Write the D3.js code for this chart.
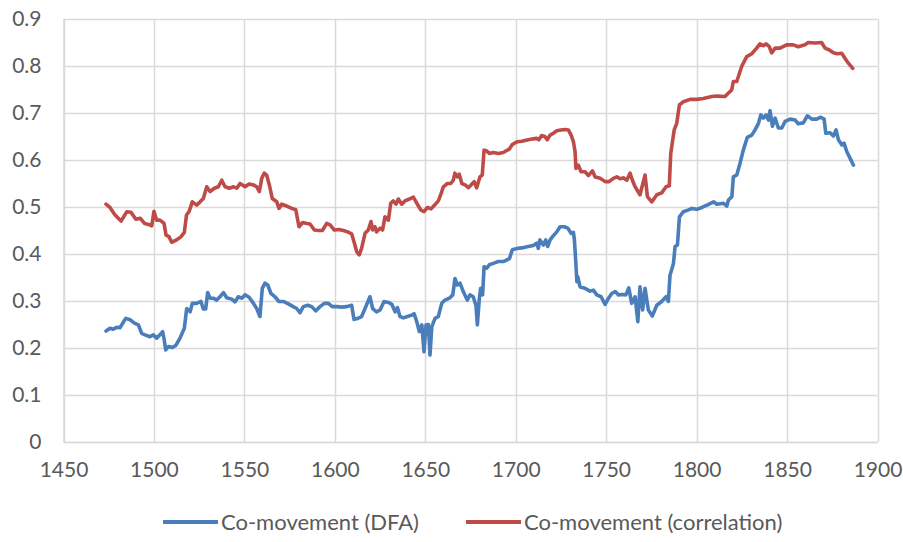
<!DOCTYPE html>
<html>
<head>
<meta charset="utf-8">
<script src="https://cdn.jsdelivr.net/npm/d3@7"></script>
<style>
  body { margin: 0; background: #fff; }
  text { font-family: Lato, "Open Sans", sans-serif; fill: #595959; }
</style>
</head>
<body>
<div id="chart"></div>
<script>
// DATA (year, value)
const dfa = [
  [1473.5,0.236],[1475.7,0.242],[1477.5,0.240],[1479.4,0.244],[1481.2,0.243],[1484.4,0.263],[1486.8,0.260],
  [1489.2,0.253],[1491.4,0.249],[1493.2,0.231],[1495,0.228],[1497.8,0.224],[1499.6,0.228],[1501.5,0.221],
  [1503.3,0.228],[1504.8,0.235],[1505.7,0.217],[1506.5,0.196],[1508,0.203],[1510.2,0.201],[1512.2,0.206],
  [1514.4,0.221],[1516.8,0.242],[1518.1,0.284],[1520,0.277],[1521.2,0.295],[1523.6,0.295],[1526,0.299],
  [1527.3,0.283],[1528.6,0.283],[1529.7,0.318],[1531,0.306],[1532.8,0.306],[1534.7,0.302],[1536.5,0.309],
  [1538.4,0.318],[1540.2,0.307],[1543,0.304],[1544.8,0.298],[1546.6,0.309],[1548.5,0.306],[1550.4,0.313],
  [1552.6,0.308],[1555,0.295],[1556.8,0.284],[1558.6,0.267],[1559.9,0.327],[1561.4,0.338],[1562.9,0.334],
  [1564.7,0.316],[1566.9,0.309],[1569.1,0.299],[1571.5,0.299],[1574.3,0.294],[1577,0.288],[1578.9,0.284],
  [1580.7,0.275],[1582.6,0.288],[1585,0.291],[1587.2,0.288],[1589.4,0.279],[1591.8,0.288],[1594.2,0.295],
  [1596.4,0.295],[1598.6,0.288],[1601,0.288],[1603.8,0.287],[1606.6,0.288],[1609.3,0.291],[1610.6,0.261],
  [1612.6,0.263],[1614.8,0.267],[1616.7,0.284],[1619.4,0.309],[1620.9,0.284],[1623.1,0.277],[1625,0.281],
  [1627.2,0.299],[1629.6,0.297],[1631.5,0.293],[1633.3,0.277],[1634.6,0.286],[1636,0.267],[1637.9,0.264],
  [1640.1,0.267],[1642.5,0.270],[1643.8,0.273],[1645.3,0.256],[1646.7,0.235],[1648.1,0.249],[1649.3,0.192],
  [1650.4,0.249],[1651.7,0.250],[1652.6,0.185],[1653.6,0.245],[1655.4,0.263],[1657.2,0.267],[1659.1,0.295],
  [1660.9,0.302],[1663.3,0.306],[1665.2,0.313],[1666.4,0.348],[1667.7,0.334],[1669.2,0.338],[1671,0.320],
  [1673.2,0.302],[1674.7,0.313],[1676.5,0.309],[1678,0.291],[1678.8,0.249],[1679.9,0.306],[1680.6,0.327],
  [1681.7,0.313],[1682.5,0.373],[1684,0.370],[1685.4,0.377],[1687.6,0.380],[1690.4,0.384],[1693.1,0.384],
  [1696.5,0.390],[1698.1,0.409],[1700.9,0.412],[1703.3,0.413],[1706.9,0.416],[1709.7,0.418],[1711.6,0.423],
  [1712.5,0.412],[1713.4,0.430],[1715.3,0.419],[1716.6,0.430],[1717.7,0.416],[1719,0.430],[1720.8,0.439],
  [1722.7,0.447],[1724.5,0.458],[1726.9,0.458],[1728.8,0.455],[1730.6,0.444],[1731.9,0.446],[1732.4,0.432],
  [1733.2,0.384],[1733.8,0.341],[1734.3,0.352],[1735.6,0.330],[1738.3,0.327],[1741.1,0.321],[1743,0.323],
  [1744.8,0.313],[1747.2,0.309],[1749.4,0.293],[1751.3,0.306],[1753.1,0.316],[1755,0.320],[1756.8,0.313],
  [1759,0.314],[1760.9,0.313],[1762.5,0.328],[1764.1,0.295],[1766,0.309],[1767.5,0.256],[1768.7,0.330],
  [1770.2,0.281],[1771.5,0.327],[1773.3,0.281],[1775.5,0.268],[1778,0.291],[1780.7,0.299],[1783.1,0.309],
  [1784.4,0.299],[1785.3,0.355],[1787.2,0.380],[1788.1,0.416],[1789.4,0.419],[1790.5,0.479],[1792.7,0.490],
  [1795.5,0.494],[1797.4,0.497],[1800.1,0.495],[1802.9,0.499],[1805.7,0.504],[1809.4,0.511],[1811.2,0.506],
  [1814.9,0.508],[1816.7,0.502],[1817.6,0.515],[1819.5,0.522],[1820.3,0.564],[1822.2,0.568],[1824,0.593],
  [1825.8,0.621],[1828,0.648],[1830.5,0.653],[1832.3,0.664],[1834.2,0.678],[1835.5,0.696],[1836.9,0.689],
  [1838.4,0.696],[1839.7,0.685],[1840.6,0.705],[1841.9,0.672],[1843.4,0.689],[1845.2,0.668],[1847.1,0.668],
  [1848.9,0.682],[1851.7,0.687],[1854.5,0.685],[1856.2,0.677],[1859,0.679],[1861.2,0.694],[1863.7,0.687],
  [1866.4,0.687],[1868.6,0.691],[1870.5,0.687],[1871.4,0.657],[1873.8,0.658],[1875.6,0.651],[1877.1,0.664],
  [1878.4,0.643],[1880.3,0.632],[1881.5,0.636],[1883,0.618],[1884.8,0.604],[1886.7,0.589]
];

const corr = [
  [1473.5,0.506],[1475.7,0.499],[1478.5,0.483],[1481.8,0.470],[1485,0.490],[1487.3,0.489],[1490,0.474],
  [1492.4,0.476],[1494.8,0.465],[1497,0.463],[1498.8,0.460],[1500,0.491],[1501.5,0.472],[1503.3,0.472],
  [1505.6,0.465],[1506.7,0.440],[1508.3,0.437],[1509.8,0.425],[1512.6,0.430],[1515,0.437],[1516.8,0.446],
  [1518,0.483],[1519.4,0.490],[1521.2,0.511],[1523.6,0.504],[1525.5,0.511],[1527.3,0.518],[1529.2,0.543],
  [1531,0.533],[1533.4,0.540],[1535.6,0.543],[1537.5,0.557],[1539.3,0.543],[1541.7,0.540],[1544,0.543],
  [1545.8,0.540],[1547.6,0.550],[1550.4,0.543],[1552.6,0.549],[1555,0.547],[1556.8,0.543],[1558.3,0.533],
  [1559.6,0.561],[1561,0.572],[1562.3,0.568],[1563.8,0.547],[1565.4,0.518],[1567.9,0.511],[1569.1,0.497],
  [1570.6,0.506],[1573.4,0.502],[1576.2,0.497],[1578.4,0.494],[1580.2,0.458],[1582.2,0.467],[1584.5,0.465],
  [1586.3,0.464],[1588.7,0.451],[1590.9,0.450],[1593.1,0.450],[1595.5,0.465],[1597.4,0.462],[1599.7,0.451],
  [1602.3,0.452],[1604.7,0.450],[1607.1,0.447],[1609.3,0.443],[1610.6,0.426],[1612.1,0.405],[1613.5,0.398],
  [1614.8,0.412],[1616.7,0.444],[1618.5,0.451],[1620,0.469],[1620.9,0.451],[1622.2,0.458],[1623.1,0.447],
  [1625,0.455],[1626.4,0.451],[1627.7,0.479],[1629.6,0.472],[1630.9,0.508],[1632.3,0.513],[1633.8,0.506],
  [1635.1,0.517],[1637,0.506],[1638.8,0.513],[1641.2,0.517],[1643.4,0.521],[1645.3,0.508],[1647.5,0.494],
  [1649.3,0.490],[1651.2,0.499],[1653.2,0.496],[1654.9,0.503],[1657.2,0.513],[1658.6,0.527],[1660,0.543],
  [1662.2,0.550],[1664.1,0.550],[1665.5,0.557],[1666.4,0.572],[1667.7,0.564],[1668.8,0.570],[1670.2,0.550],
  [1672,0.547],[1673.8,0.541],[1675.3,0.547],[1677,0.554],[1678.4,0.541],[1680.2,0.564],[1681.5,0.568],
  [1682.5,0.621],[1684,0.619],[1685.4,0.614],[1687.6,0.616],[1690.4,0.614],[1693.1,0.616],[1696.4,0.623],
  [1698.1,0.633],[1700.9,0.639],[1703.3,0.640],[1706.9,0.643],[1709.7,0.645],[1711.6,0.646],[1712.8,0.643],
  [1714.3,0.652],[1716.1,0.650],[1717.4,0.643],[1719,0.653],[1720.8,0.657],[1722.7,0.662],[1725,0.664],
  [1727.2,0.665],[1729.1,0.664],[1730.6,0.653],[1731.9,0.639],[1732.8,0.618],[1733.3,0.582],[1734.6,0.589],
  [1736.1,0.575],[1738.3,0.575],[1740.2,0.567],[1742.4,0.577],[1743.9,0.564],[1746.7,0.561],[1749.4,0.554],
  [1751.6,0.554],[1754,0.561],[1755.9,0.564],[1757.7,0.560],[1759.5,0.562],[1761.4,0.557],[1763.2,0.572],
  [1764.5,0.557],[1766,0.543],[1768.7,0.526],[1771.5,0.568],[1772.8,0.522],[1775.2,0.511],[1778,0.526],
  [1780.7,0.530],[1783.1,0.543],[1784.9,0.545],[1785.7,0.614],[1787.6,0.664],[1789,0.678],[1790.5,0.717],
  [1792.7,0.724],[1796.4,0.729],[1800.1,0.729],[1803.7,0.731],[1808.4,0.735],[1811.1,0.736],[1815.7,0.735],
  [1817.5,0.742],[1819.4,0.749],[1820.3,0.767],[1822.2,0.767],[1824.9,0.799],[1827.7,0.820],[1830.5,0.826],
  [1833.2,0.838],[1835,0.847],[1836.9,0.843],[1838.4,0.847],[1840.2,0.841],[1841.5,0.828],[1843.4,0.838],
  [1846.1,0.838],[1849.8,0.845],[1853.5,0.845],[1856.2,0.841],[1859.9,0.845],[1861.7,0.850],[1865.4,0.849],
  [1869.1,0.850],[1871,0.838],[1873.4,0.834],[1875.6,0.828],[1877.8,0.826],[1880.2,0.827],[1882.1,0.816],
  [1883.9,0.806],[1886.3,0.795]
];

const xTicks = [1450, 1500, 1550, 1600, 1650, 1700, 1750, 1800, 1850, 1900];
const yTicks = [0, 0.1, 0.2, 0.3, 0.4, 0.5, 0.6, 0.7, 0.8, 0.9];
const seriesNames = ["Co-movement (DFA)", "Co-movement (correlation)"];
const seriesColors = ["#4a7ebb", "#be4b48"];

let width = 903,
  height = 542,
  margin = { top: 19, bottom: 100, left: 63.5, right: 25.5 };

// SCALES
const xScale = d3.scaleLinear()
  .domain([1450, 1900])
  .range([margin.left, width - margin.right]);

const yScale = d3.scaleLinear()
  .domain([0, 0.9])
  .range([height - margin.bottom, margin.top]);

const svg = d3.select("#chart")
  .append("svg")
  .attr("width", width)
  .attr("height", height);

// gridlines
svg.append("g")
  .selectAll("line.hgrid")
  .data(yTicks)
  .join("line")
  .attr("class", "hgrid")
  .attr("x1", margin.left)
  .attr("x2", width - margin.right)
  .attr("y1", d => Math.round(yScale(d)) + 0.5)
  .attr("y2", d => Math.round(yScale(d)) + 0.5)
  .attr("stroke", "#d9d9d9")
  .attr("stroke-width", 1.5);

svg.append("g")
  .selectAll("line.vgrid")
  .data(xTicks)
  .join("line")
  .attr("class", "vgrid")
  .attr("x1", d => Math.round(xScale(d)) + 0.5)
  .attr("x2", d => Math.round(xScale(d)) + 0.5)
  .attr("y1", margin.top)
  .attr("y2", height - margin.bottom)
  .attr("stroke", "#d9d9d9")
  .attr("stroke-width", 1.5);

// AXES
const xAxis = d3.axisBottom(xScale).tickValues(xTicks).tickSize(0).tickPadding(20)
  .tickFormat(d3.format("d"));
const yAxis = d3.axisLeft(yScale).tickValues(yTicks).tickSize(0).tickPadding(22)
  .tickFormat(d => d === 0 ? "0" : d3.format(".1f")(d));

svg.append("g")
  .attr("class", "axis x-axis")
  .attr("transform", `translate(0,${height - margin.bottom})`)
  .call(xAxis)
  .call(g => g.select(".domain").attr("stroke", "#d9d9d9").attr("stroke-width", 1.5))
  .call(g => g.selectAll("text").style("font-size", "21px").attr("fill", "#595959"));

svg.append("g")
  .attr("class", "axis y-axis")
  .attr("transform", `translate(${margin.left},0)`)
  .call(yAxis)
  .call(g => g.select(".domain").attr("stroke", "#d9d9d9").attr("stroke-width", 1.5))
  .call(g => g.selectAll("text").style("font-size", "21px").attr("fill", "#595959"));

// LINES
const line = d3.line()
  .x(d => xScale(d[0]))
  .y(d => yScale(d[1]));

[dfa, corr].forEach((data, i) => {
  svg.append("path")
    .datum(data)
    .attr("fill", "none")
    .attr("stroke", seriesColors[i])
    .attr("stroke-width", 3.6)
    .attr("stroke-linejoin", "round")
    .attr("stroke-linecap", "round")
    .attr("d", line);
});

// LEGEND
const legendX = [163, 466];
const legend = svg.append("g").attr("class", "legend");
seriesNames.forEach((name, i) => {
  const g = legend.append("g").attr("transform", `translate(${legendX[i]},522)`);
  g.append("line")
    .attr("x1", 0).attr("x2", 55)
    .attr("y1", 0).attr("y2", 0)
    .attr("stroke", seriesColors[i])
    .attr("stroke-width", 4);
  g.append("text")
    .attr("x", 58)
    .attr("y", 8)
    .style("font-size", "22px")
    .text(name);
});
</script>
</body>
</html>
